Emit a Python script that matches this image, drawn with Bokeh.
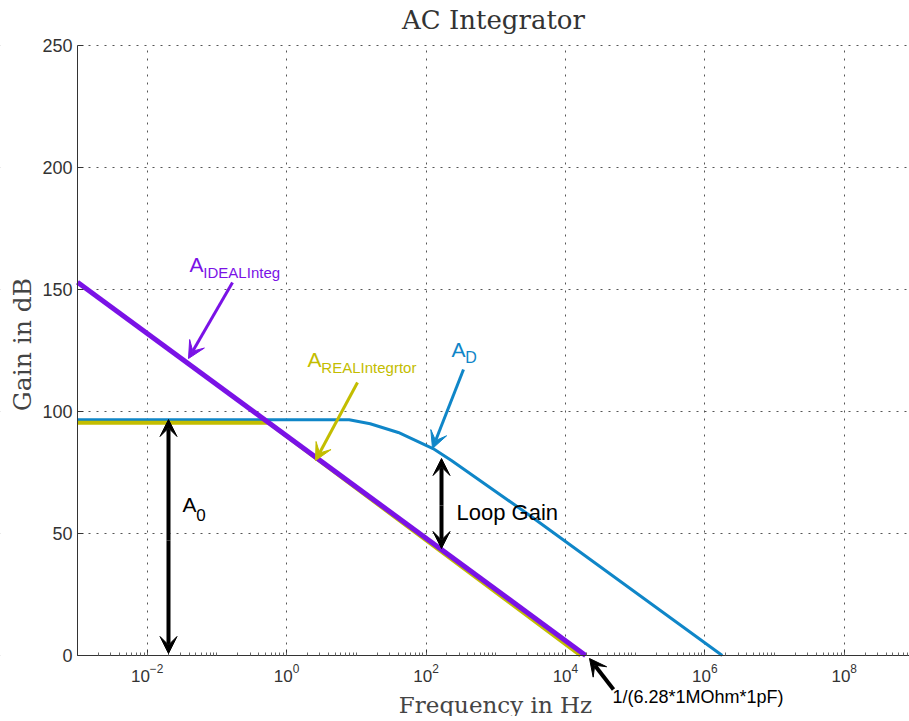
import math
from bokeh.plotting import figure
from bokeh.models import (FixedTicker, Label, Arrow, VeeHead, LogTickFormatter, Range1d,
                          BoxAnnotation)
from bokeh.embed import file_html
from bokeh.resources import INLINE

# ---- data ----
ideal_freq = [1e-3, 1.95e4]
ideal_gain = [153.0, 0.0]

real_freq = [1e-3, 0.55, 1.65e4]
real_gain = [95.4, 95.4, 0.0]

ad_freq = [1e-3, 7.9, 15.8, 40.0, 126.0, 229.0, 2880.0, 1.78e6]
ad_gain = [96.6, 96.6, 95.0, 91.4, 84.8, 80.0, 58.0, 0.0]

x_ticks = [1e-2, 1e0, 1e2, 1e4, 1e6, 1e8]
y_ticks = [0, 50, 100, 150, 200, 250]
x_min, x_max = 1e-3, 1e9
y_min, y_max = 0, 250

PURPLE = "#7a12e6"
YELLOW = "#c3bd00"
BLUE = "#0f86c8"
SERIF = "DejaVu Serif"
SANS = "Liberation Sans"

W, H = 909, 716

def L(px):
    # reference page pixel -> frequency (annotation placement)
    return 10 ** (-3 + (px - 77) / 69.7)

def G(py):
    return (655 - py) / 2.44

p = figure(width=W, height=H, x_axis_type="log",
           x_range=Range1d(L(0), L(W)), y_range=Range1d(G(H), G(0)),
           output_backend="svg", toolbar_location=None,
           min_border_left=0, min_border_right=0, min_border_top=0,
           min_border_bottom=0)
p.title = None
p.outline_line_color = None

# axes (drawn at fixed data locations inside the full-canvas frame)
p.xaxis.ticker = FixedTicker(ticks=x_ticks,
                             minor_ticks=[m * 10.0 ** e for e in range(-3, 9) for m in range(1, 10)])
p.yaxis.ticker = FixedTicker(ticks=y_ticks)
p.xaxis.formatter = LogTickFormatter()
p.xaxis.fixed_location = y_min
p.yaxis.fixed_location = x_min
p.xaxis.bounds = (x_min, x_max)
p.yaxis.bounds = (y_min, y_max)
for ax in (p.xaxis, p.yaxis):
    ax.axis_line_color = "#333333"
    ax.major_tick_line_color = "#333333"
    ax.minor_tick_line_color = "#666666"
    ax.major_tick_in = 6
    ax.major_tick_out = 0
    ax.minor_tick_in = 3
    ax.minor_tick_out = 0
    ax.major_label_text_font = SANS
    ax.major_label_text_color = "#333333"
p.xaxis.major_label_text_font_size = "17px"
p.yaxis.major_label_text_font_size = "18px"
p.yaxis.minor_tick_line_color = None
p.xaxis.major_label_standoff = 8
p.yaxis.major_label_standoff = 5

for g in (p.xgrid, p.ygrid):
    g.grid_line_color = "#555555"
    g.grid_line_dash = "2 6"
    g.grid_line_width = 1

# white masks outside the axes box (hide grid there)
far_l, far_r, far_b, far_t = L(-60), L(W + 60), G(H + 60), G(-60)
for kw in (dict(left=far_l, right=far_r, bottom=far_b, top=y_min),
           dict(left=far_l, right=x_min, bottom=far_b, top=far_t),
           dict(left=far_l, right=far_r, bottom=G(44.4), top=far_t)):
    p.add_layout(BoxAnnotation(fill_color="white", fill_alpha=1.0,
                               line_color=None, level="underlay", **kw))

# title and axis titles
p.add_layout(Label(x=L(493), y=G(34), text="AC Integrator", text_color="#333333",
                   text_font=SERIF, text_font_size="26px", text_align="center",
                   text_baseline="bottom"))
p.add_layout(Label(x=L(495), y=G(717), text="Frequency in Hz", text_color="#444444",
                   text_font=SERIF, text_font_size="23px", text_align="center",
                   text_baseline="bottom"))
p.add_layout(Label(x=L(22), y=G(344), text="Gain in dB", text_color="#444444",
                   text_font=SERIF, text_font_size="25px", text_align="center",
                   text_baseline="middle", angle=math.pi / 2))

# curves
p.line(ad_freq, ad_gain, color=BLUE, line_width=3)
p.line(real_freq, real_gain, color=YELLOW, line_width=4)
p.line(ideal_freq, ideal_gain, color=PURPLE, line_width=5)

def arrow(x0, y0, x1, y1, color, width=3, size=17):
    head = VeeHead(size=size, fill_color=color, line_color=color, line_width=1)
    p.add_layout(Arrow(end=head, x_start=x0, y_start=y0, x_end=x1, y_end=y1,
                       line_color=color, line_width=width))

def sublabel(px, py, main, sub, color, size=21, subsize=15, dx=None):
    p.add_layout(Label(x=L(px), y=G(py - 3), text=main, text_color=color,
                       text_font=SANS, text_font_size=f"{size}px"))
    w = dx if dx is not None else size * 0.66
    p.add_layout(Label(x=L(px + w), y=G(py + 2), text=sub, text_color=color,
                       text_font=SANS, text_font_size=f"{subsize}px"))

# annotations
sublabel(189, 278, "A", "IDEALInteg", PURPLE)
arrow(L(232), G(282), L(188), G(358), PURPLE)

sublabel(307, 373, "A", "REALIntegrtor", YELLOW)
arrow(L(357), G(382), L(315), G(460), YELLOW)

sublabel(451, 363, "A", "D", BLUE, subsize=16)
arrow(L(463), G(369), L(432), G(448), BLUE)

arrow(L(168), G(540), L(168), G(419), "black", width=4)
arrow(L(168), G(540), L(168), G(653), "black", width=4)
sublabel(182, 518, "A", "0", "black", size=21, subsize=17)

arrow(L(441), G(505), L(441), G(458), "black", width=4)
arrow(L(441), G(505), L(441), G(548), "black", width=4)
p.add_layout(Label(x=L(456), y=G(524), text="Loop Gain", text_color="black",
                   text_font=SANS, text_font_size="22px"))

arrow(L(613), G(689), L(589), G(658), "black", width=4)
p.add_layout(Label(x=L(612), y=G(706), text="1/(6.28*1MOhm*1pF)", text_color="black",
                   text_font=SANS, text_font_size="18px"))

open("out.html", "w").write(file_html(p, INLINE))
